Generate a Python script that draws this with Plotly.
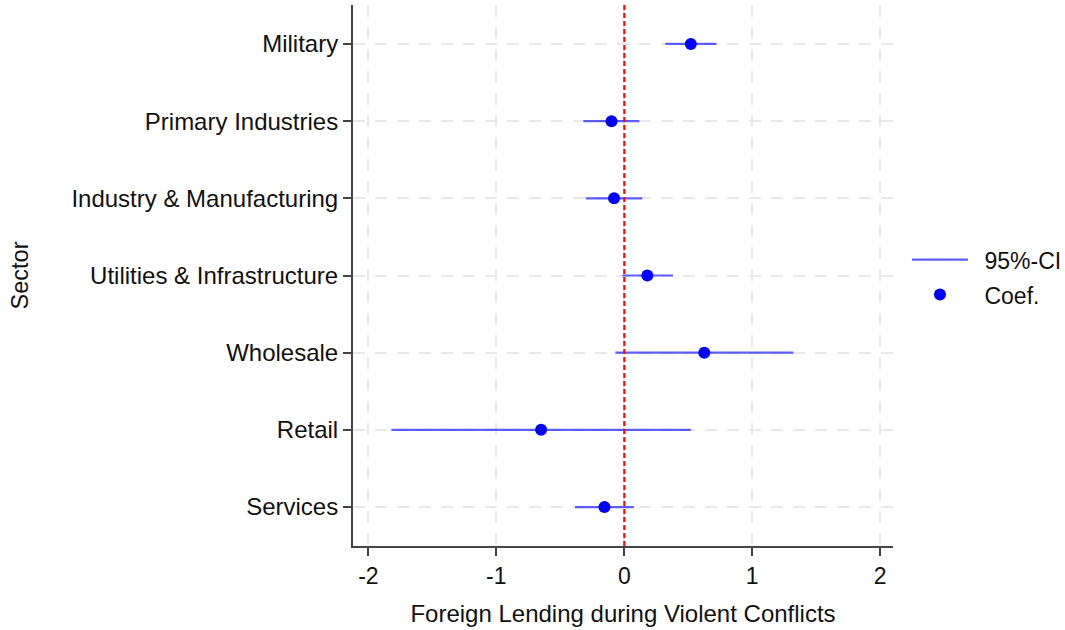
import plotly.graph_objects as go

# Sector coefficients and 95% confidence bounds
sectors = ["Military", "Primary Industries", "Industry & Manufacturing",
           "Utilities & Infrastructure", "Wholesale", "Retail", "Services"]
coef = [0.52, -0.10, -0.08, 0.18, 0.625, -0.65, -0.155]
ci_low = [0.32, -0.32, -0.30, -0.015, -0.07, -1.82, -0.385]
ci_high = [0.72, 0.117, 0.14, 0.38, 1.32, 0.52, 0.075]
x_ticks = [-2, -1, 0, 1, 2]

# Top-to-bottom ordering: first sector gets the highest position
ypos = list(range(len(sectors) - 1, -1, -1))

ci_x, ci_y = [], []
for lo, hi, y in zip(ci_low, ci_high, ypos):
    ci_x += [lo, hi, None]
    ci_y += [y, y, None]

FONT = "Liberation Sans, Arial, sans-serif"

fig = go.Figure()
fig.add_trace(go.Scatter(
    x=ci_x, y=ci_y, mode="lines", name="\u200295%-CI", legendgroup="ci",
    line=dict(color="rgba(40,40,255,0.75)", width=2.2),
))
fig.add_trace(go.Scatter(
    x=coef, y=ypos, mode="markers", name="\u2002Coef.", legendgroup="coef",
    marker=dict(color="#0000ff", size=12),
))

# Reference line at zero
fig.add_shape(type="line", x0=0, x1=0, xref="x", y0=0, y1=1, yref="paper",
              line=dict(color="#ff0000", width=2, dash="5px,3px"), layer="above")

grid = dict(showgrid=True, gridcolor="#e8e8e8", gridwidth=2, griddash="12px,10px")

fig.update_layout(
    width=1065, height=630,
    margin=dict(l=353, r=172, t=5, b=84, autoexpand=False),
    plot_bgcolor="white", paper_bgcolor="white",
    font=dict(family=FONT, size=24, color="#111111"),
    showlegend=True,
    legend=dict(xref="container", x=0.8516, xanchor="left",
                yref="container", y=0.56, yanchor="middle",
                font=dict(size=23), itemwidth=56, tracegroupgap=2),
    xaxis=dict(
        range=[-2.12, 2.10], tickvals=x_ticks, ticktext=[str(v) for v in x_ticks],
        tickfont=dict(size=23),
        zeroline=False, showline=True, linecolor="#444444", linewidth=2,
        ticks="outside", ticklen=8, tickwidth=2, tickcolor="#444444",
        title=dict(text="Foreign Lending during Violent Conflicts",
                   font=dict(family=FONT, size=24), standoff=18),
        **grid,
    ),
    yaxis=dict(
        range=[-0.505, 6.505], tickvals=ypos, ticktext=sectors,
        tickfont=dict(size=24),
        zeroline=False, showline=True, linecolor="#444444", linewidth=2,
        ticks="outside", ticklen=8, tickwidth=2, tickcolor="#444444",
        title=dict(text="Sector", font=dict(family=FONT, size=23.5), standoff=36),
        **grid,
    ),
)

fig.write_html("out.html")
